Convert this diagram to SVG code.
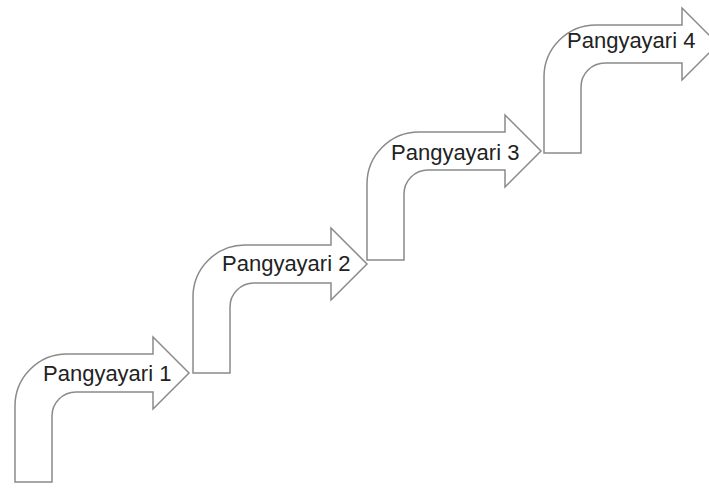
<svg xmlns="http://www.w3.org/2000/svg" xmlns:xlink="http://www.w3.org/1999/xlink" width="709" height="488" viewBox="0 0 709 488">
<style>
.shape{fill:#ffffff;stroke:#8a8a8a;stroke-width:1.5;stroke-linejoin:miter}
.lbl{font-family:"Liberation Sans",Arial,sans-serif;font-size:22px;fill:#222222}
</style>
<defs>
<path id="bent" d="M0,0 L0,-76 A52,52 0 0 1 52,-128 L138,-128 L138,-145 L174,-109 L138,-73 L138,-90 L61,-90 A24,24 0 0 0 37,-66 L37,0 Z"/>
</defs>
<rect width="709" height="488" fill="#ffffff"/>
<g id="step1">
<use xlink:href="#bent" class="shape" transform="translate(15,482)"/>
<text class="lbl" x="43" y="381">Pangyayari 1</text>
</g>
<g id="step2">
<use xlink:href="#bent" class="shape" transform="translate(193,373)"/>
<text class="lbl" x="222" y="271">Pangyayari 2</text>
</g>
<g id="step3">
<use xlink:href="#bent" class="shape" transform="translate(367,260)"/>
<text class="lbl" x="391" y="160">Pangyayari 3</text>
</g>
<g id="step4">
<use xlink:href="#bent" class="shape" transform="translate(544,153)"/>
<text class="lbl" x="567" y="48">Pangyayari 4</text>
</g>
<g id="connectors"></g>
</svg>
